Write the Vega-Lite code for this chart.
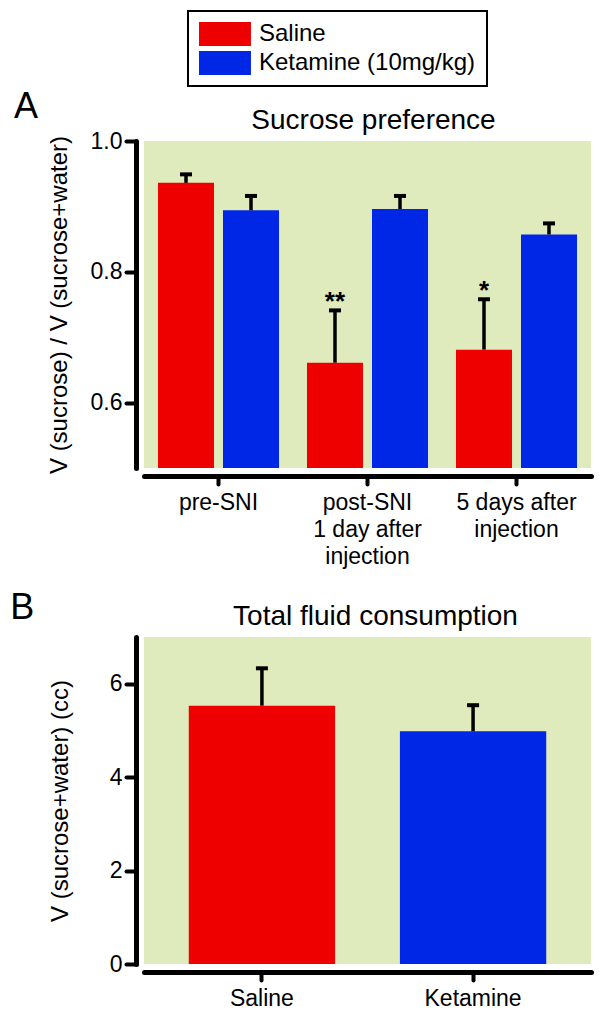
{
  "$schema": "https://vega.github.io/schema/vega-lite/v6.json",
  "padding": {"left": 10, "top": 10, "right": 5, "bottom": 5},
  "background": "white",
  "config": {
    "font": "Liberation Sans",
    "view": {"stroke": null},
    "axis": {
      "labelFont": "Liberation Sans", "titleFont": "Liberation Sans",
      "labelFontSize": 23, "titleFontSize": 24, "titleFontWeight": "normal",
      "labelColor": "black", "titleColor": "black", "domainColor": "black", "tickColor": "black",
      "grid": false, "domainWidth": 5, "tickWidth": 4, "domainCap": "round", "tickCap": "round"
    },
    "title": {"font": "Liberation Sans", "fontWeight": "normal", "color": "black"},
    "legend": {"strokeWidth": 2},
    "concat": {"spacing": 22}
  },
  "datasets": {
    "a": [
      {"phase": "pre-SNI", "treatment": "Saline", "mean": 0.936, "upper": 0.949, "star": ""},
      {"phase": "pre-SNI", "treatment": "Ketamine (10mg/kg)", "mean": 0.894, "upper": 0.916, "star": ""},
      {"phase": "post-SNI|1 day after|injection", "treatment": "Saline", "mean": 0.661, "upper": 0.741, "star": "**"},
      {"phase": "post-SNI|1 day after|injection", "treatment": "Ketamine (10mg/kg)", "mean": 0.896, "upper": 0.916, "star": ""},
      {"phase": "5 days after|injection", "treatment": "Saline", "mean": 0.681, "upper": 0.758, "star": "*"},
      {"phase": "5 days after|injection", "treatment": "Ketamine (10mg/kg)", "mean": 0.857, "upper": 0.874, "star": ""}
    ],
    "b": [
      {"name": "Saline", "treatment": "Saline", "mean": 5.53, "upper": 6.33},
      {"name": "Ketamine", "treatment": "Ketamine (10mg/kg)", "mean": 4.98, "upper": 5.54}
    ]
  },
  "vconcat": [
    {
      "title": {"text": "A", "fontSize": 36, "anchor": "start", "frame": "bounds", "baseline": "alphabetic", "offset": -47, "dx": -33},
      "vconcat": [
        {
          "title": {"text": "Sucrose preference", "fontSize": 28, "anchor": "middle", "frame": "group", "baseline": "alphabetic", "offset": -27, "dx": 6},
          "width": 447, "height": 327,
          "view": {"fill": "#e0ebbd", "stroke": null},
          "data": {"name": "a"},
          "encoding": {
            "x": {"field": "phase", "type": "nominal", "sort": null,
                  "scale": {"paddingInner": 0, "paddingOuter": 0},
                  "axis": {"title": null, "labelAngle": 0, "offset": 8, "tickSize": 8, "labelPadding": 7,
                           "labelBaseline": "top", "labelLineHeight": 27, "labelExpr": "split(datum.label, '|')"}},
            "xOffset": {"field": "treatment", "type": "nominal", "sort": null,
                        "scale": {"paddingInner": 0.138, "paddingOuter": 0.215}}
          },
          "layer": [
            {
              "mark": {"type": "bar"},
              "encoding": {
                "y": {"field": "mean", "type": "quantitative",
                      "scale": {"domain": [0.5, 1.0], "zero": false, "nice": false},
                      "axis": {"title": "V (sucrose) / V (sucrose+water)", "values": [0.6, 0.8, 1.0], "format": ".1f",
                               "offset": 8, "tickSize": 10, "labelPadding": 4, "titlePadding": 19}},
                "y2": {"datum": 0.5},
                "color": {"field": "treatment", "type": "nominal", "sort": null,
                          "scale": {"range": ["#ee0000", "#0026e6"]},
                          "legend": {"orient": "none", "legendX": 44, "legendY": -130, "title": null,
                                     "labelFontSize": 24, "labelFont": "Liberation Sans", "labelColor": "black",
                                     "symbolType": "M-1,-1H3.33V1H-1Z", "symbolSize": 576, "symbolStrokeWidth": 0,
                                     "symbolOpacity": 1, "labelOffset": 36, "rowPadding": 5, "padding": 11,
                                     "strokeColor": "black", "direction": "vertical", "labelLimit": 400}}
              }
            },
            {
              "mark": {"type": "rule", "strokeWidth": 3.5, "color": "black"},
              "encoding": {
                "y": {"field": "mean", "type": "quantitative", "axis": {"title": "V (sucrose) / V (sucrose+water)"}},
                "y2": {"field": "upper"}
              }
            },
            {
              "mark": {"type": "tick", "color": "black", "thickness": 4, "size": 12, "opacity": 1},
              "encoding": {
                "y": {"field": "upper", "type": "quantitative", "axis": {"title": "V (sucrose) / V (sucrose+water)"}}
              }
            },
            {
              "mark": {"type": "text", "fontSize": 26, "fontWeight": "bold", "baseline": "alphabetic", "dy": 0, "color": "black"},
              "encoding": {
                "y": {"field": "upper", "type": "quantitative", "axis": {"title": "V (sucrose) / V (sucrose+water)"}},
                "text": {"field": "star"}
              }
            }
          ]
        }
      ]
    },
    {
      "title": {"text": "B", "fontSize": 36, "anchor": "start", "frame": "bounds", "baseline": "alphabetic", "offset": -52, "dx": -38},
      "vconcat": [
        {
          "title": {"text": "Total fluid consumption", "fontSize": 28, "anchor": "middle", "frame": "group", "baseline": "alphabetic", "offset": -16, "dx": 8},
          "width": 447, "height": 327,
          "view": {"fill": "#e0ebbd", "stroke": null},
          "data": {"name": "b"},
          "encoding": {
            "x": {"field": "name", "type": "nominal", "sort": null,
                  "scale": {"paddingInner": 0.307, "paddingOuter": 0.212},
                  "axis": {"title": null, "labelAngle": 0, "offset": 8, "tickSize": 8, "labelPadding": 7, "labelBaseline": "top"}}
          },
          "layer": [
            {
              "mark": {"type": "bar"},
              "encoding": {
                "y": {"field": "mean", "type": "quantitative",
                      "scale": {"domain": [0, 7], "nice": false},
                      "axis": {"title": "V (sucrose+water) (cc)", "values": [0, 2, 4, 6], "format": "d",
                               "offset": 8, "tickSize": 10, "labelPadding": 4, "titlePadding": 37}},
                "color": {"field": "treatment", "type": "nominal", "sort": null,
                          "scale": {"range": ["#ee0000", "#0026e6"]},
                          "legend": {"orient": "none", "legendX": 44, "legendY": -130, "title": null,
                                     "labelFontSize": 24, "labelFont": "Liberation Sans", "labelColor": "black",
                                     "symbolType": "M-1,-1H3.33V1H-1Z", "symbolSize": 576, "symbolStrokeWidth": 0,
                                     "symbolOpacity": 1, "labelOffset": 36, "rowPadding": 5, "padding": 11,
                                     "strokeColor": "black", "direction": "vertical", "labelLimit": 400}}
              }
            },
            {
              "mark": {"type": "rule", "strokeWidth": 3.5, "color": "black"},
              "encoding": {
                "y": {"field": "mean", "type": "quantitative", "axis": {"title": "V (sucrose+water) (cc)"}},
                "y2": {"field": "upper"}
              }
            },
            {
              "mark": {"type": "tick", "color": "black", "thickness": 4, "size": 12, "opacity": 1},
              "encoding": {
                "y": {"field": "upper", "type": "quantitative", "axis": {"title": "V (sucrose+water) (cc)"}}
              }
            }
          ]
        }
      ]
    }
  ]
}
